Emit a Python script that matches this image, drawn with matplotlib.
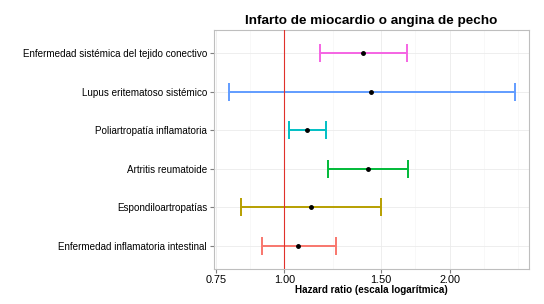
import numpy as np
import matplotlib
matplotlib.use('Agg')
from matplotlib import pyplot as plt
from matplotlib.ticker import FixedLocator, NullFormatter

plt.rcParams['font.family'] = ['Liberation Sans', 'DejaVu Sans']

# bottom to top
categories = ['Enfermedad inflamatoria intestinal', 'Espondiloartropatías',
              'Artritis reumatoide', 'Poliartropatía inflamatoria',
              'Lupus eritematoso sistémico',
              'Enfermedad sistémica del tejido conectivo']
hr = [1.06, 1.12, 1.42, 1.10, 1.44, 1.39]
lower = [0.909, 0.835, 1.20, 1.018, 0.791, 1.16]
upper = [1.24, 1.50, 1.68, 1.19, 2.63, 1.67]
colors = ['#F8766D', '#B79F00', '#00BA38', '#00BFC4', '#619CFF', '#F564E3']

x_breaks = [0.75, 1.0, 1.5, 2.0]
x_labels = ['0.75', '1.00', '1.50', '2.00']
x_minor = [0.866, 1.2247, 1.732, 2.309, 2.667]

fig = plt.figure(figsize=(5.44, 3.04), dpi=100)
ax = fig.add_axes([214 / 544, 1 - 269 / 304, (529 - 214) / 544, (269 - 30) / 304])

ax.set_xscale('log')
ax.set_xlim(0.744, 2.79)
ax.set_ylim(0.4, 6.6)

ax.xaxis.set_major_locator(FixedLocator(x_breaks))
ax.xaxis.set_minor_locator(FixedLocator(x_minor))
ax.xaxis.set_minor_formatter(NullFormatter())
ax.set_xticklabels(x_labels)

y = np.arange(1, len(categories) + 1)
ax.set_yticks(y)
ax.set_yticklabels(categories)

ax.grid(True, which='major', color='#EBEBEB', linewidth=0.6)
ax.grid(True, which='minor', color='#F5F5F5', linewidth=0.5)
ax.set_axisbelow(True)

for i in range(len(categories)):
    ax.errorbar(hr[i], y[i], xerr=[[hr[i] - lower[i]], [upper[i] - hr[i]]],
                fmt='none', ecolor=colors[i], elinewidth=1.4, capsize=6.8,
                capthick=1.4)
    ax.plot(hr[i], y[i], 'o', color='black', markersize=2.5, zorder=5)

ax.axvline(1.0, color='#E0312B', linewidth=0.8, zorder=4)

for s in ax.spines.values():
    s.set_color('#BEBEBE')
    s.set_linewidth(0.8)

ax.tick_params(axis='y', which='major', length=3, color='#7F7F7F',
               labelsize=7.15, labelcolor='black', pad=2)
ax.tick_params(axis='x', which='major', length=3, color='#7F7F7F',
               labelsize=7.8, labelcolor='black', pad=1)
ax.tick_params(axis='x', which='minor', length=0)

ax.set_title('Infarto de miocardio o angina de pecho', fontsize=9.7,
             fontweight='bold', pad=4)
ax.set_xlabel('Hazard ratio (escala logarítmica)', fontsize=7.15,
              fontweight='bold', labelpad=0.5)

fig.savefig('out.png', dpi=100)
